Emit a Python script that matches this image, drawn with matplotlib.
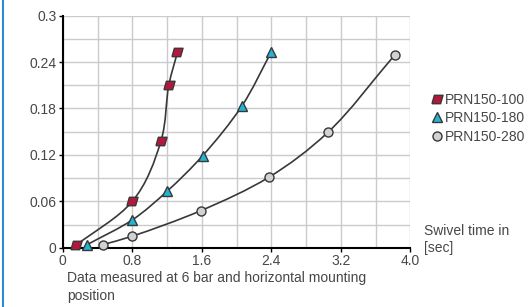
import numpy as np
import matplotlib
matplotlib.use('Agg')
import matplotlib.pyplot as plt
from matplotlib.path import Path
from matplotlib.patches import PathPatch
from matplotlib.lines import Line2D

# swivel time [sec] vs moment of inertia
t_100 = [0.15, 0.80, 1.13, 1.22, 1.32]
j_100 = [0.003, 0.060, 0.138, 0.210, 0.253]

t_180 = [0.28, 0.80, 1.20, 1.61, 2.06, 2.40]
j_180 = [0.004, 0.036, 0.073, 0.119, 0.183, 0.253]

t_280 = [0.46, 0.80, 1.59, 2.37, 3.05, 3.82]
j_280 = [0.004, 0.015, 0.048, 0.091, 0.149, 0.249]

names = ['PRN150-100', 'PRN150-180', 'PRN150-280']
xticks = [0, 0.8, 1.6, 2.4, 3.2, 4.0]
xlabels = ['0', '0.8', '1.6', '2.4', '3.2', '4.0']
yticks = [0, 0.06, 0.12, 0.18, 0.24, 0.3]
ylabels = ['0', '0.06', '0.12', '0.18', '0.24', '0.3']

plt.rcParams['font.family'] = ['Liberation Sans', 'DejaVu Sans']
txt = '#474747'
fs = 10
para = Path([(-0.5, -0.38), (0.28, -0.38), (0.5, 0.38), (-0.28, 0.38), (-0.5, -0.38)])


def smooth_path(x, y):
    # centripetal catmull-rom pieces turned into cubic beziers
    pts = np.column_stack([np.asarray(x, float), np.asarray(y, float) * 13.3])
    n = len(pts)
    verts = [pts[0]]
    codes = [Path.MOVETO]
    for i in range(n - 1):
        p0 = pts[i - 1] if i > 0 else 2 * pts[i] - pts[i + 1]
        p1 = pts[i]
        p2 = pts[i + 1]
        p3 = pts[i + 2] if i + 2 < n else 2 * pts[i + 1] - pts[i]
        d1 = np.linalg.norm(p1 - p0) ** 0.5
        d2 = np.linalg.norm(p2 - p1) ** 0.5
        d3 = np.linalg.norm(p3 - p2) ** 0.5
        m1 = (p1 - p0) / d1 - (p2 - p0) / (d1 + d2) + (p2 - p1) / d2
        m2 = (p2 - p1) / d2 - (p3 - p1) / (d2 + d3) + (p3 - p2) / d3
        c1 = p1 + m1 * d2 / 3.0
        c2 = p2 - m2 * d2 / 3.0
        verts += [c1, c2, p2]
        codes += [Path.CURVE4] * 3
    verts = np.array(verts)
    verts[:, 1] /= 13.3
    return Path(verts, codes)


fig = plt.figure(figsize=(5.28, 3.07), dpi=100)
ax = fig.add_axes([0.119, 0.193, 0.658, 0.756])

ax.set_xlim(0, 4.0)
ax.set_ylim(0, 0.3)
ax.set_xticks(np.arange(0, 4.01, 0.4), minor=True)
ax.set_yticks(np.arange(0, 0.301, 0.03), minor=True)
ax.set_xticks(xticks)
ax.set_xticklabels(xlabels)
ax.set_yticks(yticks)
ax.set_yticklabels(ylabels)
ax.grid(True, which='both', color='#cbcbcf', lw=1.0, zorder=0)
ax.tick_params(which='minor', length=0)
ax.tick_params(which='major', length=3, width=1, color='black', labelsize=fs,
               labelcolor=txt, pad=1.5)
for s in ['top', 'right']:
    ax.spines[s].set_visible(False)
for s in ['left', 'bottom']:
    ax.spines[s].set_linewidth(1.5)
ax.set_axisbelow(True)

series = [
    (t_100, j_100, dict(marker=para, markersize=8, markerfacecolor='#b3173d')),
    (t_180, j_180, dict(marker='^', markersize=7, markerfacecolor='#22b4d4')),
    (t_280, j_280, dict(marker='o', markersize=6.5, markerfacecolor='#d2d2d4')),
]
handles = []
for (xs, ys, mk), name in zip(series, names):
    ax.add_patch(PathPatch(smooth_path(xs, ys), fill=False, edgecolor='#383838',
                           lw=1.2, zorder=3))
    ax.plot(xs, ys, ls='none', markeredgecolor='#383838', markeredgewidth=1.0,
            zorder=4, clip_on=False, **mk)
    handles.append(Line2D([], [], ls='none', markeredgecolor='#383838',
                          markeredgewidth=1.0, label=name, **mk))

fig.legend(handles=handles, loc='center left', bbox_to_anchor=(0.818, 0.615),
           frameon=False, fontsize=fs, labelcolor=txt, handlelength=0.7,
           handletextpad=0.2, borderaxespad=0, borderpad=0, labelspacing=0.32)

fig.text(0.803, 0.22, 'Swivel time in\n[sec]', fontsize=fs, color=txt,
         va='center', ha='left', linespacing=1.35)
fig.text(0.127, 0.065, 'Data measured at 6 bar and horizontal mounting\nposition',
         fontsize=fs, color=txt, va='center', ha='left', linespacing=1.35)

fig.add_artist(Line2D([0.006, 0.006], [0, 1], color='#2f8bd0', lw=1.5))

fig.savefig('out.png', dpi=100)
